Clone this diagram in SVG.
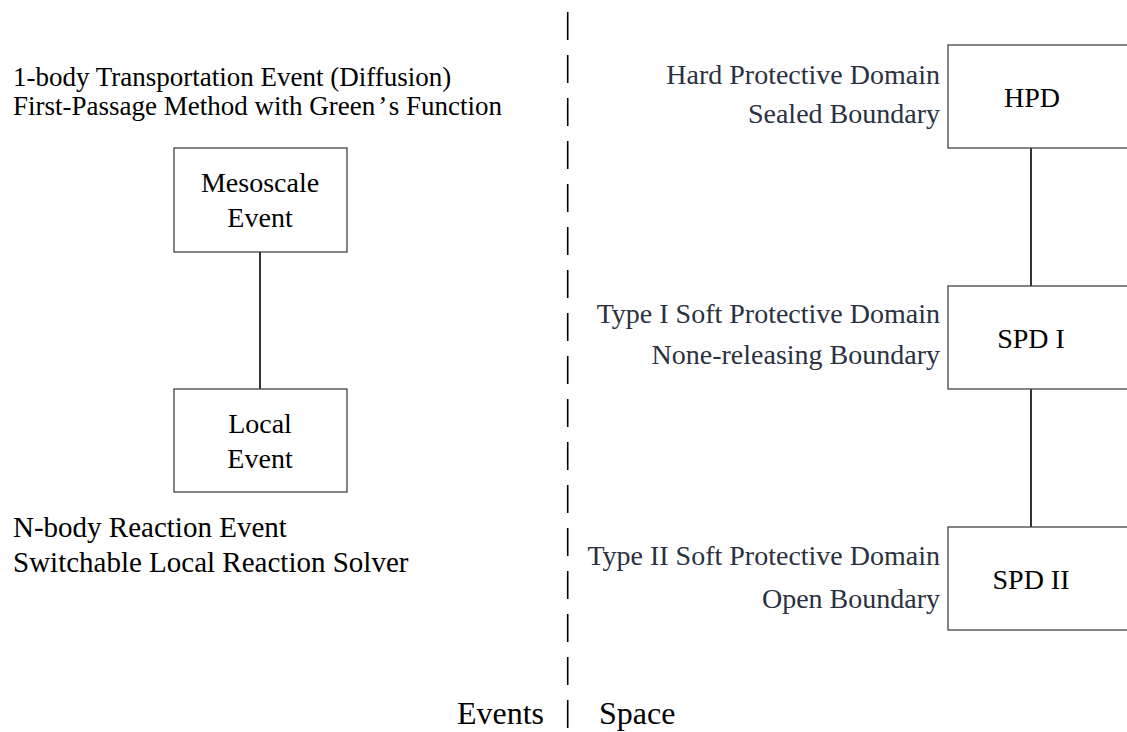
<svg xmlns="http://www.w3.org/2000/svg" width="1127" height="732" viewBox="0 0 1127 732">
<style>
text{font-family:"Liberation Serif","Times New Roman",serif;fill:#000}
.box rect{fill:#fff;stroke:#444;stroke-width:1.3}
.box text{font-size:28px;text-anchor:middle}
.lt{font-size:27px}
.lb{font-size:29px}
.rt{font-size:28px;fill:#2a3140;text-anchor:end}
.conn line{stroke:#000;stroke-width:1.6}
</style>
<rect width="1127" height="732" fill="#fff"/>
<g class="conn">
<line x1="260" y1="252" x2="260" y2="389"/>
<line x1="1031" y1="148" x2="1031" y2="286"/>
<line x1="1031" y1="389" x2="1031" y2="527"/>
<line x1="567.7" y1="12" x2="567.7" y2="732" stroke-width="2" stroke-dasharray="28 15"/>
</g>
<g id="mesoscale" class="box">
<rect x="174" y="148" width="173" height="104"/>
<text x="260" y="192">Mesoscale</text>
<text x="260" y="227">Event</text>
</g>
<g id="local" class="box">
<rect x="174" y="389" width="173" height="103"/>
<text x="260" y="433">Local</text>
<text x="260" y="468">Event</text>
</g>
<g id="hpd" class="box">
<rect x="948" y="45" width="200" height="103"/>
<text x="1032" y="107">HPD</text>
</g>
<g id="spd1" class="box">
<rect x="948" y="286" width="200" height="103"/>
<text x="1031" y="348">SPD I</text>
</g>
<g id="spd2" class="box">
<rect x="948" y="527" width="200" height="103"/>
<text x="1031" y="589">SPD II</text>
</g>
<g id="labels">
<text class="lt" x="13" y="86">1-body Transportation Event (Diffusion)</text>
<text class="lt" x="13" y="115">First-Passage Method with Green<tspan dx="3">’</tspan><tspan dx="3">s Function</tspan></text>
<text class="lb" x="13" y="537">N-body Reaction Event</text>
<text class="lb" x="13" y="572">Switchable Local Reaction Solver</text>
<text class="rt" x="940" y="84">Hard Protective Domain</text>
<text class="rt" x="940" y="123">Sealed Boundary</text>
<text class="rt" x="940" y="323">Type I Soft Protective Domain</text>
<text class="rt" x="940" y="364">None-releasing Boundary</text>
<text class="rt" x="940" y="565">Type II Soft Protective Domain</text>
<text class="rt" x="940" y="608">Open Boundary</text>
<text x="544" y="724" font-size="32" text-anchor="end">Events</text>
<text x="599" y="724" font-size="32">Space</text>
</g>
</svg>
